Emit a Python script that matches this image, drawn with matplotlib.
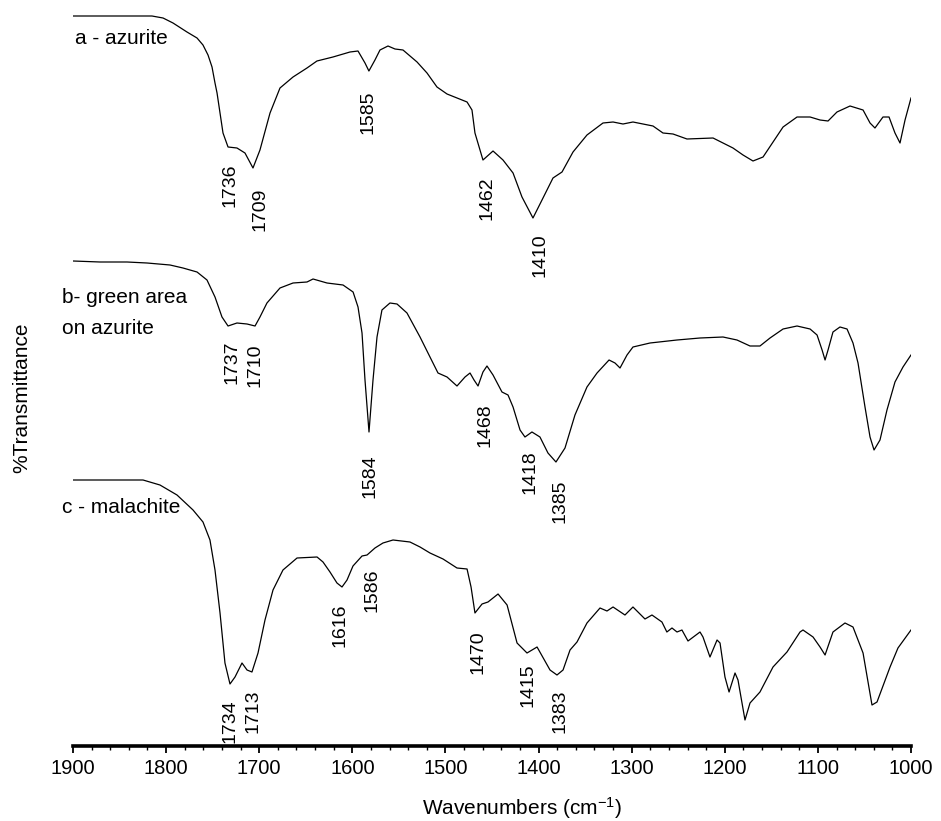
import matplotlib
matplotlib.use("Agg")
import matplotlib.pyplot as plt
from matplotlib.ticker import MultipleLocator

plt.rcParams['font.family'] = ['Liberation Sans', 'DejaVu Sans']
plt.rcParams['mathtext.fontset'] = 'custom'
plt.rcParams['mathtext.rm'] = 'Liberation Sans'
plt.rcParams['mathtext.it'] = 'Liberation Sans'

# ---------------- data (wavenumber in cm-1, stacked transmittance, arbitrary units) -------------
wn_a = [1900, 1815.2, 1803.3, 1792.6, 1777.6, 1766.8, 1760.4, 1755.0, 1750.7, 1747.5, 1745.3,
        1738.9, 1733.5, 1723.9,
        1715.3, 1706.7, 1699.2, 1688.4, 1677.7, 1663.7, 1648.7, 1638.0, 1620.8, 1602.5,
        1593.9, 1586.4, 1582.2, 1575.7, 1570.3, 1561.7, 1554.2, 1545.6, 1530.5, 1519.8,
        1509.1, 1498.3, 1476.8, 1471.5, 1468.3, 1459.7, 1448.9, 1438.2, 1427.4, 1417.8,
        1406.0, 1396.3, 1384.5, 1374.8, 1363.0, 1348.0, 1330.8, 1320.0, 1309.3, 1298.6,
        1277.1, 1266.4, 1255.6, 1240.6, 1212.6, 1191.2, 1180.4, 1169.7, 1158.9, 1137.4,
        1122.4, 1108.4, 1097.7, 1089.1, 1079.5, 1065.5, 1051.5, 1044.0, 1038.7, 1030.1,
        1023.6, 1017.2, 1011.8, 1006.4, 1000.0]
t_a = [730, 730, 728, 723, 714, 708, 701, 691, 679, 663, 653,
       613, 599, 598,
       593, 578, 596, 633, 658, 669, 678, 685, 689, 694,
       695, 683, 675, 686, 696, 700, 697, 696, 684, 673,
       659, 652, 644, 636, 613, 586, 595, 586, 573, 549,
       528, 546, 568, 574, 594, 611, 623, 624, 622, 624,
       620, 613, 612, 607, 608, 598, 591, 585, 589, 619,
       629, 629, 626, 625, 634, 640, 636, 623, 618, 629,
       629, 613, 603, 626, 648]

wn_b = [1900, 1871.0, 1842.0, 1820.5, 1795.8, 1781.9, 1766.8, 1756.1, 1747.5, 1740.0,
        1733.5, 1723.9, 1713.1, 1704.5, 1699.2, 1691.7, 1677.7, 1663.7, 1648.7, 1642.2,
        1627.2, 1610.0, 1599.2, 1593.9, 1589.6, 1586.4, 1582.1, 1577.8, 1573.5, 1568.2,
        1559.6, 1552.0, 1541.3, 1527.3, 1516.6, 1508.0, 1498.3, 1487.6, 1479.0, 1473.6,
        1469.3, 1465.0, 1459.7, 1455.4, 1448.9, 1439.3, 1432.8, 1427.4, 1419.9, 1414.6,
        1407.1, 1398.5, 1389.9, 1381.3, 1371.6, 1360.9, 1348.0, 1337.2, 1324.3, 1317.9,
        1312.5, 1305.0, 1298.6, 1280.3, 1251.3, 1226.6, 1201.9, 1186.9, 1172.9, 1162.2,
        1151.4, 1137.4, 1122.4, 1108.4, 1100.9, 1095.5, 1092.3, 1089.1, 1083.8, 1076.3,
        1068.7, 1062.3, 1056.9, 1049.4, 1044.0, 1039.7, 1033.3, 1025.8, 1017.2, 1008.6,
        1000.0]
t_b = [485, 484, 484, 483, 481, 478, 474, 466, 449, 429,
       420, 423, 422, 420, 429, 443, 458, 463, 464, 467,
       463, 461, 454, 439, 413, 366, 314, 366, 409, 436,
       443, 442, 433, 409, 389, 373, 369, 360, 369, 373,
       366, 360, 374, 380, 371, 354, 351, 339, 316, 309,
       314, 309, 293, 284, 298, 331, 359, 373, 386, 383,
       378, 391, 399, 403, 406, 408, 409, 406, 400, 400,
       408, 417, 420, 417, 411, 396, 386, 396, 414, 419,
       417, 403, 383, 339, 309, 296, 306, 336, 364, 379,
       391]

wn_c = [1900, 1824.8, 1806.6, 1788.3, 1771.1, 1760.4, 1752.9, 1747.5, 1742.1, 1736.8,
        1731.4, 1726.0, 1718.5, 1713.1, 1707.8, 1701.3, 1693.8, 1685.2, 1674.5, 1659.4,
        1637.9, 1631.5, 1624.0, 1616.5, 1611.1, 1605.7, 1599.3, 1589.6, 1584.2, 1575.7,
        1567.1, 1556.3, 1538.1, 1527.3, 1516.6, 1502.6, 1487.6, 1476.8, 1472.5, 1468.3,
        1460.7, 1454.3, 1443.5, 1433.8, 1423.1, 1412.4, 1401.6, 1387.7, 1380.2, 1373.7,
        1366.2, 1358.7, 1348.0, 1334.0, 1326.5, 1320.0, 1307.2, 1298.6, 1285.7, 1278.2,
        1267.5, 1262.2, 1256.7, 1251.3, 1246.0, 1239.5, 1226.6, 1223.4, 1215.9, 1208.3,
        1205.1, 1199.8, 1195.4, 1189.0, 1185.8, 1178.3, 1172.9, 1162.2, 1148.2, 1133.2,
        1119.2, 1116.0, 1105.2, 1097.7, 1092.3, 1083.8, 1070.9, 1062.3, 1051.5, 1041.9,
        1036.5, 1022.5, 1014.0, 1000.0]
t_c = [266, 266, 261, 251, 236, 224, 206, 176, 133, 83,
       62, 69, 83, 76, 74, 93, 126, 156, 176, 188,
       189, 184, 174, 163, 159, 166, 180, 190, 191, 198,
       203, 206, 204, 199, 193, 187, 178, 177, 159, 133,
       142, 144, 152, 141, 103, 93, 99, 76, 71, 76,
       96, 104, 123, 138, 135, 139, 131, 139, 127, 131,
       124, 114, 118, 114, 116, 105, 114, 109, 89, 106,
       103, 69, 54, 73, 66, 26, 43, 54, 79, 94,
       114, 116, 109, 99, 91, 114, 123, 119, 93, 41,
       44, 79, 98, 116]

# peak annotations: text, wavenumber, height
peak_labels = ['1736', '1709', '1585', '1462', '1410',
               '1737', '1710', '1584', '1468', '1418', '1385',
               '1734', '1713', '1616', '1586', '1470', '1415', '1383']
peak_x = [1731.4, 1699.2, 1583.2, 1455.4, 1398.5,
          1729.2, 1704.5, 1581.0, 1457.5, 1409.2, 1376.9,
          1731.4, 1706.7, 1613.2, 1578.9, 1465.0, 1411.3, 1376.9]
peak_y = [561, 537, 634, 548, 491,
          384, 381, 270, 321, 274, 245,
          25, 35, 121, 156, 94, 61, 35]

sample_names = ['a - azurite', 'b- green area\non azurite', 'c - malachite']
x_ticks = [1900, 1800, 1700, 1600, 1500, 1400, 1300, 1200, 1100, 1000]

# ---------------- figure -------------
W, H = 941, 821
fig = plt.figure(figsize=(W / 100, H / 100), dpi=100)
ax = fig.add_axes([73 / W, 75 / H, 838 / W, 746 / H])

for wn, t in [(wn_a, t_a), (wn_b, t_b), (wn_c, t_c)]:
    ax.plot(wn, t, color='black', lw=0.9, solid_joinstyle='round')

ax.set_xlim(1900, 1000)
ax.set_ylim(0, 746)

for s in ['left', 'right', 'top']:
    ax.spines[s].set_visible(False)
ax.spines['bottom'].set_linewidth(2.6)
ax.set_yticks([])
ax.set_xticks(x_ticks)
ax.set_xticklabels([str(v) for v in x_ticks], fontsize=14.5)
ax.xaxis.set_minor_locator(MultipleLocator(20))
ax.tick_params(axis='x', which='major', length=5, width=1.3, pad=4)
ax.tick_params(axis='x', which='minor', length=3, width=1.0)

for lab, x, y in zip(peak_labels, peak_x, peak_y):
    ax.text(x, y, lab, rotation=90, ha='center', va='center', fontsize=14)

fig.text(75 / W, 1 - 38 / H, sample_names[0], ha='left', va='center', fontsize=15)
fig.text(62 / W, 1 - 313 / H, sample_names[1], ha='left', va='center', fontsize=15,
         linespacing=1.85)
fig.text(62 / W, 1 - 507 / H, sample_names[2], ha='left', va='center', fontsize=15)

fig.text(22 / W, 1 - 398 / H, '%Transmittance', rotation=90, ha='center', va='center',
         fontsize=15)
fig.text(422 / W, 1 - 808 / H, 'Wavenumbers (cm$^{-1}$)', ha='left', va='center',
         fontsize=15)

fig.savefig('out.png', dpi=100)
